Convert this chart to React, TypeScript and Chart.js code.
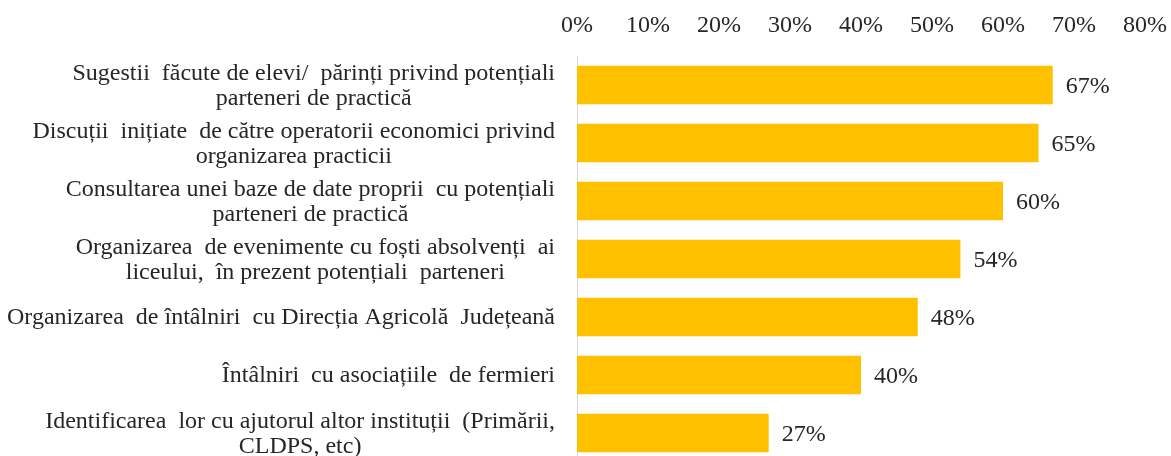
import React, { useEffect, useRef } from "react";
import { Chart, registerables } from "chart.js";

Chart.register(...registerables);

const categories: string[][] = [
  ["Sugestii  făcute de elevi/  părinți privind potențiali", "parteneri de practică"],
  ["Discuții  inițiate  de către operatorii economici privind", "organizarea practicii"],
  ["Consultarea unei baze de date proprii  cu potențiali", "parteneri de practică"],
  ["Organizarea  de evenimente cu foști absolvenți  ai", "liceului,  în prezent potențiali  parteneri"],
  ["Organizarea  de întâlniri  cu Direcția Agricolă  Județeană"],
  ["Întâlniri  cu asociațiile  de fermieri"],
  ["Identificarea  lor cu ajutorul altor instituții  (Primării,", "CLDPS, etc)"],
];
const values: number[] = [67, 65, 60, 54, 48, 40, 27];
const xMin = 0;
const xMax = 80;
const xStep = 10;

const FONT_FAMILY = "'Liberation Serif', 'Times New Roman', serif";
const FONT_SIZE = 24;
const TEXT_COLOR = "#262626";
const BAR_COLOR = "#FFC000";

const labelPlugin = {
  id: "customLabels",
  afterDraw(chart: any) {
    const ctx = chart.ctx as CanvasRenderingContext2D;
    const yScale = chart.scales.y;
    const area = chart.chartArea;
    ctx.save();
    ctx.font = `${FONT_SIZE}px ${FONT_FAMILY}`;
    ctx.fillStyle = TEXT_COLOR;
    ctx.textBaseline = "middle";
    ctx.textAlign = "center";
    const lineH = 25;
    categories.forEach((lines, i) => {
      const y = yScale.getPixelForValue(i) + 1;
      const maxW = Math.max(...lines.map((l) => ctx.measureText(l).width));
      const cx = area.left - 22 - maxW / 2;
      lines.forEach((line, k) => {
        ctx.fillText(line, cx, y + (k - (lines.length - 1) / 2) * lineH);
      });
    });
    // data labels
    const meta = chart.getDatasetMeta(0);
    ctx.textAlign = "left";
    meta.data.forEach((el: any, i: number) => {
      ctx.fillText(values[i] + "%", el.x + 13, el.y + 2);
    });
    ctx.restore();
  },
};

export default function App() {
  const ref = useRef<HTMLCanvasElement | null>(null);
  useEffect(() => {
    if (!ref.current) return;
    const chart = new Chart(ref.current, {
      type: "bar",
      data: {
        labels: categories.map((c) => c.join(" ")),
        datasets: [
          {
            data: values,
            backgroundColor: BAR_COLOR,
            borderWidth: 0,
            barPercentage: 0.66,
            categoryPercentage: 1,
          },
        ],
      },
      options: {
        indexAxis: "y",
        animation: false,
        responsive: false,
        maintainAspectRatio: false,
        layout: { padding: { left: 0, right: 26, top: 0, bottom: 0 } },
        plugins: {
          legend: { display: false },
          tooltip: { enabled: false },
        },
        scales: {
          x: {
            position: "top",
            min: xMin,
            max: xMax,
            grid: { display: false, drawTicks: false },
            border: { display: false },
            ticks: {
              stepSize: xStep,
              padding: 16,
              maxRotation: 0,
              autoSkip: false,
              color: TEXT_COLOR,
              font: { family: FONT_FAMILY, size: FONT_SIZE },
              callback: (v: any) => v + "%",
            },
            afterFit: (scale: any) => {
              scale.height = 56;
              scale.paddingLeft = 0;
              scale.paddingRight = 0;
            },
          },
          y: {
            grid: { display: false, drawTicks: false },
            border: { display: true, color: "#d9d9d9", width: 1 },
            ticks: { display: false },
            afterFit: (scale: any) => {
              scale.width = 577;
            },
          },
        },
      },
      plugins: [labelPlugin],
    });
    return () => chart.destroy();
  }, []);
  return (
    <div
      style={{
        position: "absolute",
        left: 0,
        top: 0,
        width: 1171,
        height: 456,
        overflow: "hidden",
        background: "#fff",
      }}
    >
      <canvas ref={ref} width={1171} height={462} style={{ display: "block" }} />
    </div>
  );
}
